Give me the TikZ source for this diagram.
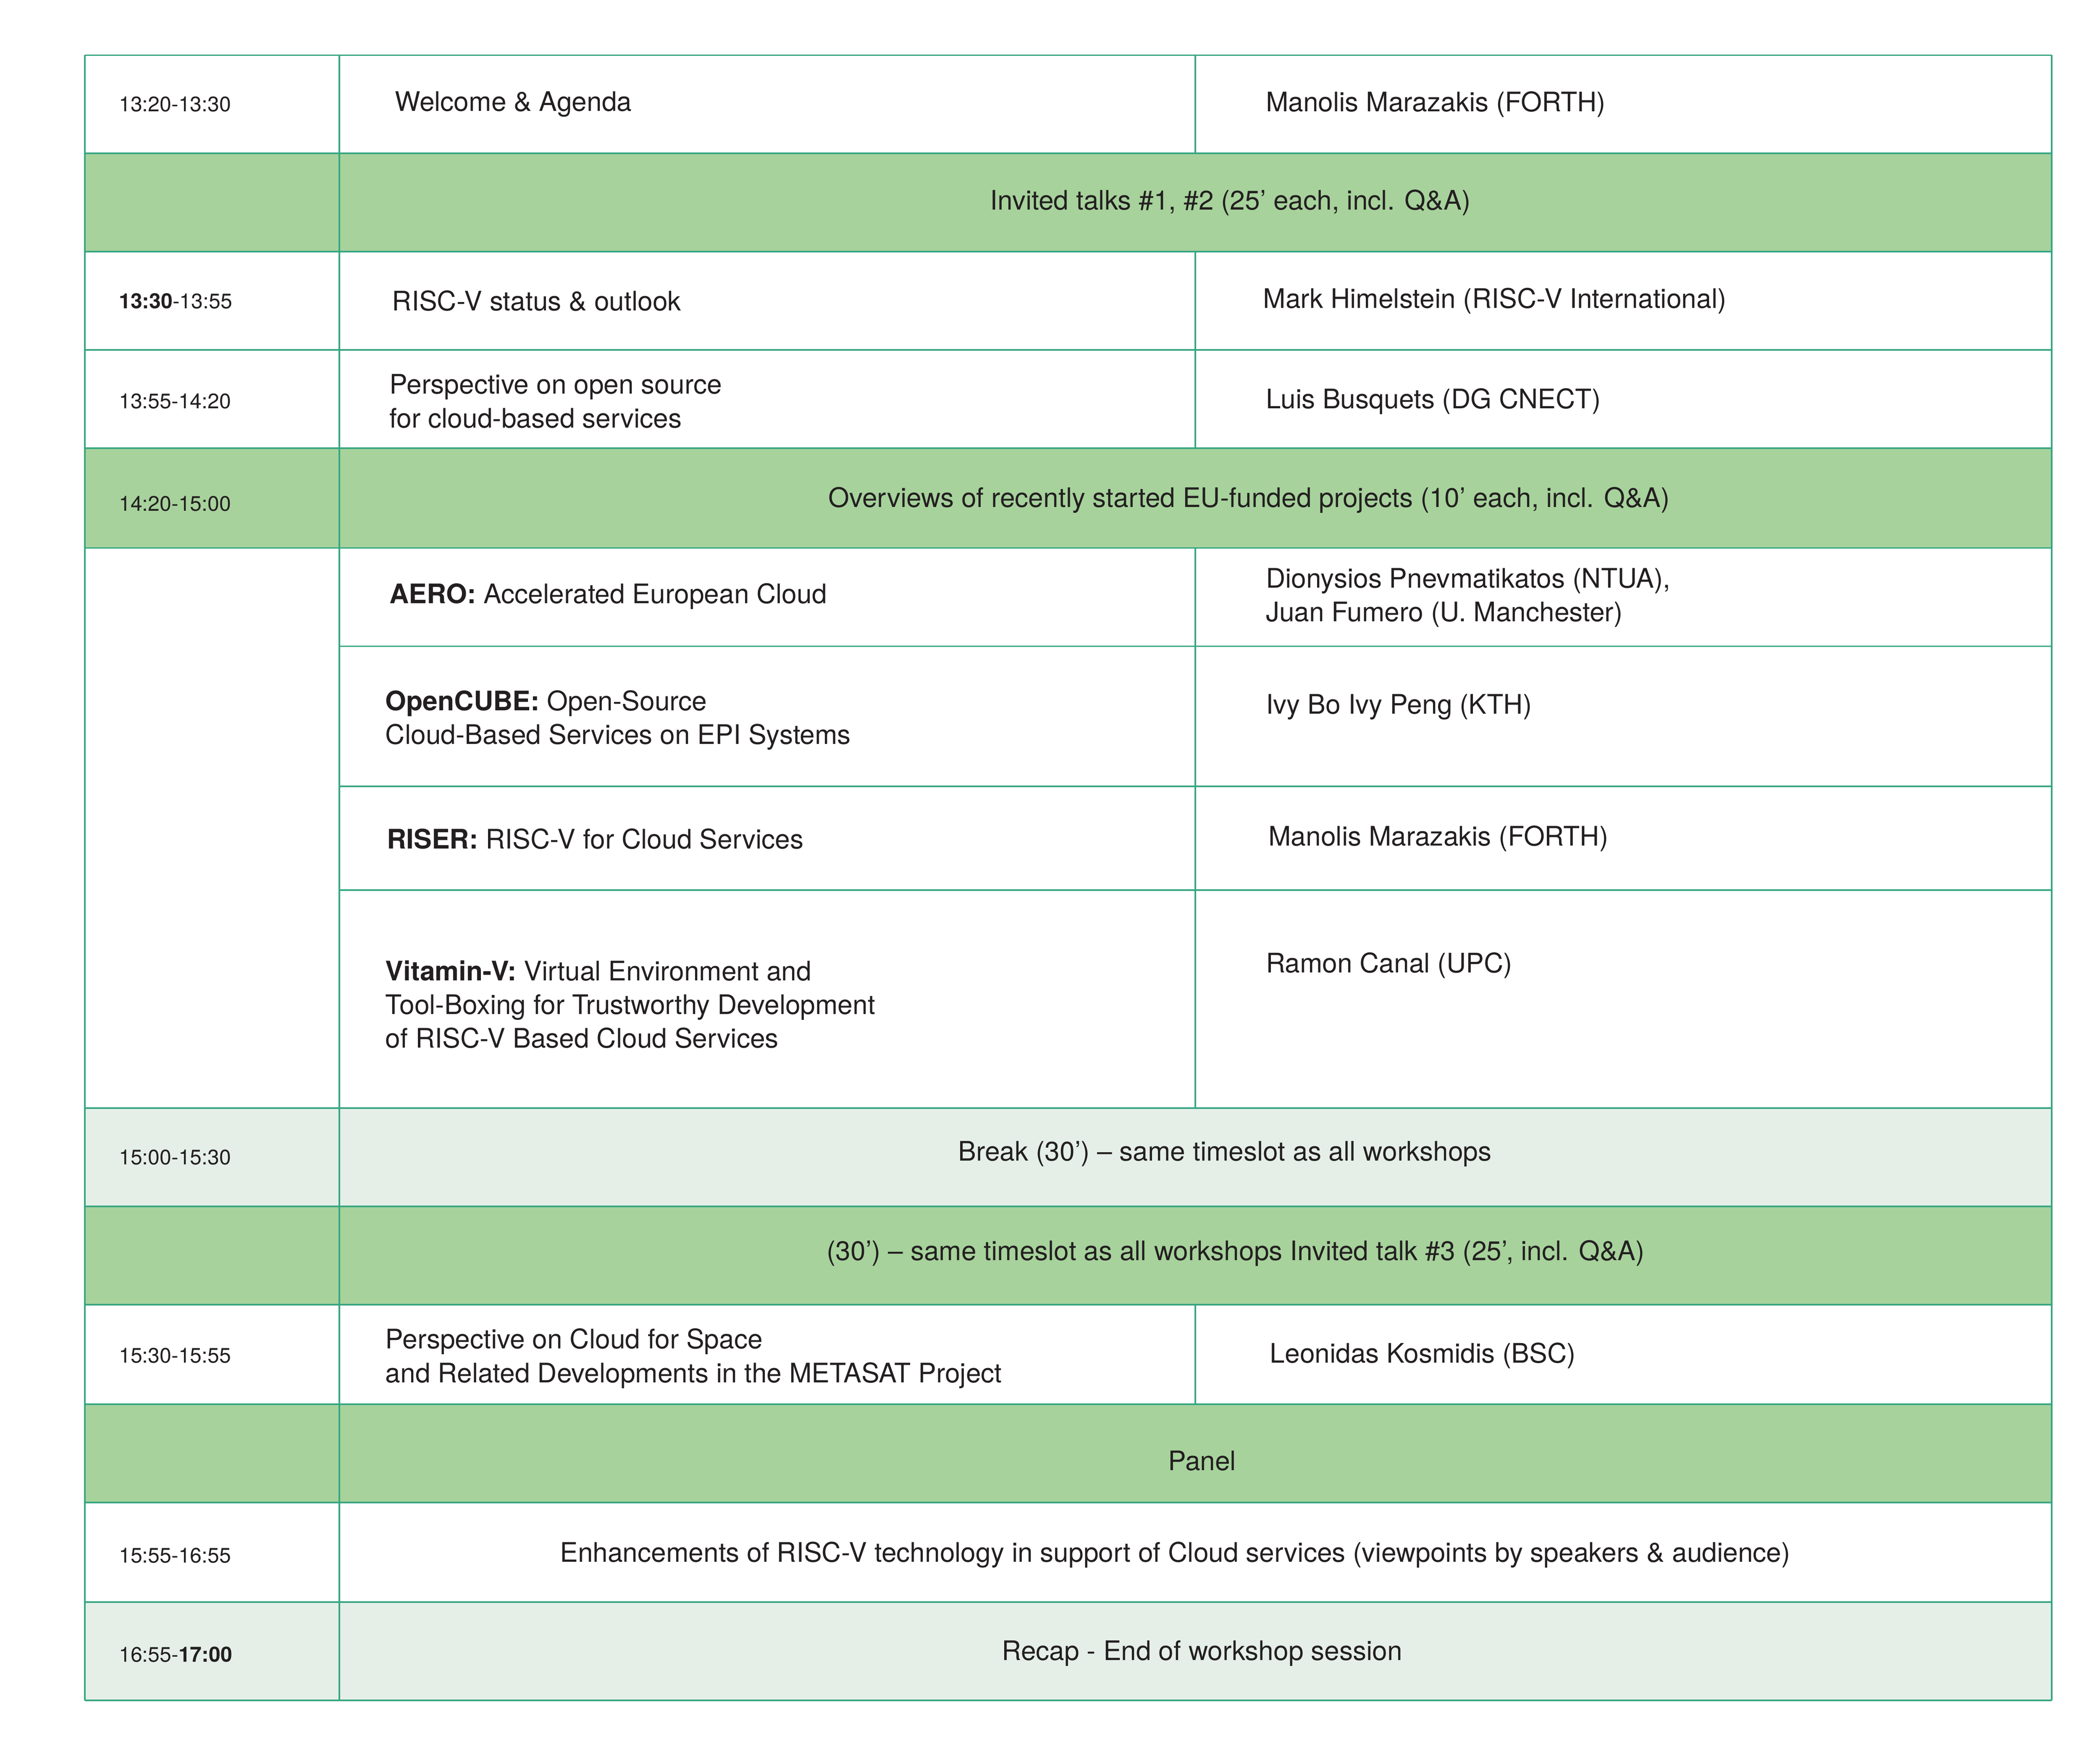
\documentclass[tikz,border=0pt]{standalone}
\usepackage{fontspec}
\setmainfont{TeX Gyre Heros}
\definecolor{bd}{HTML}{37A682}
\definecolor{gr}{HTML}{A7D29C}
\definecolor{lg}{HTML}{E5EFE8}
\definecolor{tx}{HTML}{231F20}
\begin{document}
\begin{tikzpicture}[x=0.5pt,y=-0.5pt,
  tm/.style={anchor=west,font=\fontsize{7.8}{9.5}\selectfont,text=tx,inner sep=0},
  lt/.style={anchor=west,align=left,font=\fontsize{10}{12.5}\selectfont,text=tx,inner sep=0},
  ct/.style={anchor=center,align=center,font=\fontsize{10}{12.5}\selectfont,text=tx,inner sep=0},
  ln/.style={draw=bd,line width=0.6pt}]
\useasboundingbox (0,0) rectangle (1560,1297.4);
\fill[white] (0,0) rectangle (1560,1297.4);
% fills
\foreach \a/\b in {114/187,333/407,896/969,1043/1116} \fill[gr] (63,\a) rectangle (1524,\b);
\foreach \a/\b in {823/896,1190/1263} \fill[lg] (63,\a) rectangle (1524,\b);
% horizontal lines full width
\foreach \y in {41,114,187,260,333,407,823,896,969,1043,1116,1190,1263} \draw[ln] (63,\y) -- (1524,\y);
\foreach \y in {480,584,661} \draw[ln] (252,\y) -- (1524,\y);
% vertical lines
\draw[ln] (63,41) -- (63,1263);
\draw[ln] (1524,41) -- (1524,1263);
\draw[ln] (252,41) -- (252,1263);
\foreach \a/\b in {41/114,187/333,407/823,969/1043} \draw[ln] (888,\a) -- (888,\b);
% texts
\node[tm] (t1) at (88,77.5) {13:20-13:30};
\node[lt] (a1) at (293,77.5) {Welcome \& Agenda};
\node[lt] (s1) at (940,77.5) {Manolis Marazakis (FORTH)};
\node[ct] (h1) at (914,150.5) {Invited talks \#1, \#2 (25’ each, incl. Q\&A)};
\node[tm] (t2) at (88,223.5) {\textbf{13:30}-13:55};
\node[lt] (a2) at (291,223.5) {RISC-V status \& outlook};
\node[lt] (s2) at (938,223.5) {Mark Himelstein (RISC-V International)};
\node[tm] (t3) at (88,298) {13:55-14:20};
\node[lt] (a3) at (289,298) {Perspective on open source\\for cloud-based services};
\node[lt] (s3) at (940,298) {Luis Busquets (DG CNECT)};
\node[tm] (t4) at (88,374) {14:20-15:00};
\node[ct] (h2) at (928,371.5) {Overviews of recently started EU-funded projects (10’ each, incl. Q\&A)};
\node[lt] (a4) at (289,443) {\textbf{AERO:} Accelerated European Cloud};
\node[lt] (s4) at (940,444) {Dionysios Pnevmatikatos (NTUA),\\Juan Fumero (U. Manchester)};
\node[lt] (a5) at (286,535) {\textbf{OpenCUBE:} Open-Source\\Cloud-Based Services on EPI Systems};
\node[lt] (s5) at (940,525) {Ivy Bo Ivy Peng (KTH)};
\node[lt] (a6) at (287,623) {\textbf{RISER:} RISC-V for Cloud Services};
\node[lt] (s6) at (942,623) {Manolis Marazakis (FORTH)};
\node[lt] (a7) at (286,746) {\textbf{Vitamin-V:} Virtual Environment and\\Tool-Boxing for Trustworthy Development\\of RISC-V Based Cloud Services};
\node[lt] (s7) at (940,717) {Ramon Canal (UPC)};
\node[tm] (t5) at (88,859.5) {15:00-15:30};
\node[ct] (h3) at (910,857) {Break (30’) – same timeslot as all workshops};
\node[ct] (h4) at (918,931) {(30’) – same timeslot as all workshops Invited talk \#3 (25’, incl. Q\&A)};
\node[tm] (t6) at (88,1007) {15:30-15:55};
\node[lt] (a8) at (286,1009) {Perspective on Cloud for Space\\and Related Developments in the METASAT Project};
\node[lt] (s8) at (943,1007) {Leonidas Kosmidis (BSC)};
\node[ct] (h5) at (893,1085) {Panel};
\node[tm] (t7) at (88,1155.5) {15:55-16:55};
\node[ct] (h6) at (873,1155) {Enhancements of RISC-V technology in support of Cloud services (viewpoints by speakers \& audience)};
\node[tm] (t8) at (88,1229) {16:55-\textbf{17:00}};
\node[ct] (h7) at (893,1228) {Recap - End of workshop session};
\end{tikzpicture}
\end{document}
